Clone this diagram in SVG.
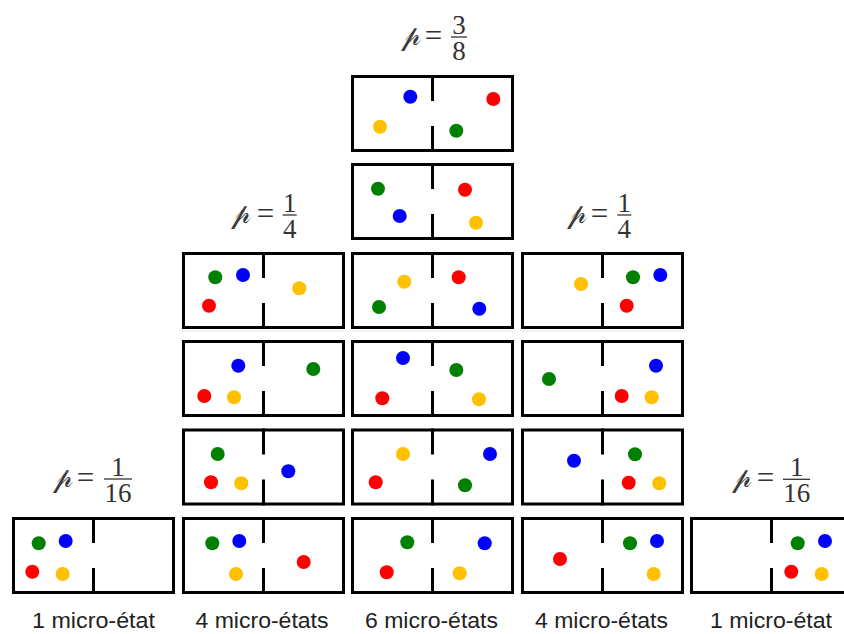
<svg xmlns="http://www.w3.org/2000/svg" width="844" height="634" viewBox="0 0 844 634">
<style>
.box{fill:none;stroke:#000;stroke-width:3}
.wall{stroke:#000;stroke-width:3}
.g{fill:#008000}.b{fill:#0000ff}.r{fill:#ff0000}.y{fill:#ffc000}
.lbl{font-family:"Liberation Sans",Arial,sans-serif;font-size:22px;fill:#222;text-anchor:middle}
.m{font-family:"Liberation Serif","DejaVu Serif",serif;font-size:27px;fill:#333;text-anchor:middle}
.eq{font-family:"Liberation Serif","DejaVu Serif",serif;font-size:31px;fill:#333;text-anchor:middle}
.p{font-family:"DejaVu Serif","DejaVu Sans",serif;font-size:28px;fill:#3a3a3a;text-anchor:middle}
.bar{stroke:#333;stroke-width:1.3}
.seam{stroke:#e2e2e2;stroke-width:1}
</style>
<defs>
<g id="frame">
<rect class="box" x="1.5" y="1.5" width="160" height="74"/>
<line class="wall" x1="81.5" y1="0" x2="81.5" y2="26"/>
<line class="wall" x1="81.5" y1="51" x2="81.5" y2="77"/>
</g>
</defs>
<rect width="844" height="634" fill="#fff"/>
<g id="seams">
<line class="seam" x1="182" y1="331" x2="344" y2="331"/>
<line class="seam" x1="351" y1="331" x2="513" y2="331"/>
<line class="seam" x1="521" y1="331" x2="683" y2="331"/>
</g>
<g id="r0c2"><use href="#frame" x="351" y="75"/>
<circle class="b" cx="410.3" cy="96.7" r="7"/><circle class="r" cx="493.3" cy="99" r="7"/><circle class="y" cx="380" cy="126.7" r="7"/><circle class="g" cx="456.3" cy="130.7" r="7"/></g>
<g id="r1c2"><use href="#frame" x="351" y="163"/>
<circle class="g" cx="378" cy="188.7" r="7"/><circle class="r" cx="465" cy="189.7" r="7"/><circle class="b" cx="399.7" cy="216" r="7"/><circle class="y" cx="476" cy="222.7" r="7"/></g>
<g id="r2c1"><use href="#frame" x="182" y="252"/>
<circle class="g" cx="215.3" cy="277.3" r="7"/><circle class="b" cx="243" cy="275" r="7"/><circle class="y" cx="299.3" cy="288.3" r="7"/><circle class="r" cx="209" cy="305.7" r="7"/></g>
<g id="r2c2"><use href="#frame" x="351" y="252"/>
<circle class="y" cx="404.3" cy="281.7" r="7"/><circle class="r" cx="458.7" cy="277.3" r="7"/><circle class="g" cx="379" cy="307" r="7"/><circle class="b" cx="479.3" cy="308.7" r="7"/></g>
<g id="r2c3"><use href="#frame" x="521" y="252"/>
<circle class="y" cx="581" cy="284" r="7"/><circle class="g" cx="633" cy="277.3" r="7"/><circle class="b" cx="660.3" cy="275" r="7"/><circle class="r" cx="626.7" cy="305.7" r="7"/></g>
<g id="r3c1"><use href="#frame" x="182" y="340"/>
<circle class="b" cx="238.3" cy="365.7" r="7"/><circle class="g" cx="313.3" cy="369" r="7"/><circle class="r" cx="204.3" cy="396" r="7"/><circle class="y" cx="234" cy="397.3" r="7"/></g>
<g id="r3c2"><use href="#frame" x="351" y="340"/>
<circle class="b" cx="403" cy="358" r="7"/><circle class="g" cx="456.3" cy="370" r="7"/><circle class="r" cx="382.3" cy="398.3" r="7"/><circle class="y" cx="479" cy="399.3" r="7"/></g>
<g id="r3c3"><use href="#frame" x="521" y="340"/>
<circle class="g" cx="549" cy="379" r="7"/><circle class="b" cx="656" cy="365.7" r="7"/><circle class="r" cx="621.7" cy="396" r="7"/><circle class="y" cx="651.7" cy="397.3" r="7"/></g>
<g id="r4c1"><use href="#frame" x="182" y="428.5"/>
<circle class="g" cx="217.7" cy="454" r="7"/><circle class="b" cx="288.3" cy="471.3" r="7"/><circle class="r" cx="211" cy="482.3" r="7"/><circle class="y" cx="241.3" cy="483.3" r="7"/></g>
<g id="r4c2"><use href="#frame" x="351" y="428.5"/>
<circle class="y" cx="403" cy="454" r="7"/><circle class="b" cx="490" cy="454" r="7"/><circle class="r" cx="375.7" cy="482.3" r="7"/><circle class="g" cx="465" cy="485.3" r="7"/></g>
<g id="r4c3"><use href="#frame" x="521" y="428.5"/>
<circle class="b" cx="574" cy="460.7" r="7"/><circle class="g" cx="635" cy="454.3" r="7"/><circle class="r" cx="628.7" cy="482.7" r="7"/><circle class="y" cx="659.3" cy="483.3" r="7"/></g>
<g id="r5c0"><use href="#frame" x="12" y="517"/>
<circle class="g" cx="38.7" cy="543.3" r="7"/><circle class="b" cx="65.7" cy="541" r="7"/><circle class="r" cx="32.3" cy="571.7" r="7"/><circle class="y" cx="62.7" cy="574" r="7"/></g>
<g id="r5c1"><use href="#frame" x="182" y="517"/>
<circle class="g" cx="212.3" cy="543.3" r="7"/><circle class="b" cx="239.3" cy="541" r="7"/><circle class="y" cx="236" cy="574" r="7"/><circle class="r" cx="303.7" cy="562" r="7"/></g>
<g id="r5c2"><use href="#frame" x="351" y="517"/>
<circle class="g" cx="407.3" cy="542.3" r="7"/><circle class="b" cx="484.7" cy="543.3" r="7"/><circle class="r" cx="386.7" cy="572.3" r="7"/><circle class="y" cx="459.7" cy="573.3" r="7"/></g>
<g id="r5c3"><use href="#frame" x="521" y="517"/>
<circle class="r" cx="560" cy="559" r="7"/><circle class="g" cx="630" cy="543.3" r="7"/><circle class="b" cx="657" cy="541" r="7"/><circle class="y" cx="653.7" cy="574" r="7"/></g>
<g id="r5c4"><use href="#frame" x="690" y="517"/>
<circle class="g" cx="797.7" cy="543.3" r="7"/><circle class="b" cx="825" cy="541" r="7"/><circle class="r" cx="791.3" cy="571.7" r="7"/><circle class="y" cx="821.7" cy="574" r="7"/></g>
<g id="prob-top">
<text class="p" x="410.5" y="45">𝓅</text><text class="eq" x="433.5" y="45.5">=</text>
<text class="m" x="459" y="33.5">3</text><line class="bar" x1="451" y1="37" x2="467" y2="37"/><text class="m" x="459" y="60">8</text>
</g>
<g id="prob-left4">
<text class="p" x="240.7" y="223">𝓅</text><text class="eq" x="265.5" y="223.5">=</text>
<text class="m" x="289.7" y="212">1</text><line class="bar" x1="282.7" y1="215" x2="296.7" y2="215"/><text class="m" x="289.7" y="238">4</text>
</g>
<g id="prob-right4">
<text class="p" x="576.5" y="223">𝓅</text><text class="eq" x="599.5" y="223.5">=</text>
<text class="m" x="624.3" y="212">1</text><line class="bar" x1="617.3" y1="215" x2="631.3" y2="215"/><text class="m" x="624.3" y="238">4</text>
</g>
<g id="prob-left16">
<text class="p" x="62.5" y="487">𝓅</text><text class="eq" x="85.5" y="487.5">=</text>
<text class="m" x="118" y="476">1</text><line class="bar" x1="104" y1="479" x2="132" y2="479"/><text class="m" x="118" y="502">16</text>
</g>
<g id="prob-right16">
<text class="p" x="742.3" y="487">𝓅</text><text class="eq" x="765.5" y="487.5">=</text>
<text class="m" x="796.7" y="476">1</text><line class="bar" x1="783" y1="479.3" x2="810" y2="479.3"/><text class="m" x="796.7" y="502">16</text>
</g>
<g id="labels">
<text class="lbl" x="93.5" y="628" textLength="123" lengthAdjust="spacingAndGlyphs">1 micro-état</text>
<text class="lbl" x="262" y="628" textLength="133" lengthAdjust="spacingAndGlyphs">4 micro-états</text>
<text class="lbl" x="431.5" y="628" textLength="133" lengthAdjust="spacingAndGlyphs">6 micro-états</text>
<text class="lbl" x="601.5" y="628" textLength="133" lengthAdjust="spacingAndGlyphs">4 micro-états</text>
<text class="lbl" x="771" y="628" textLength="122" lengthAdjust="spacingAndGlyphs">1 micro-état</text>
</g>
</svg>
